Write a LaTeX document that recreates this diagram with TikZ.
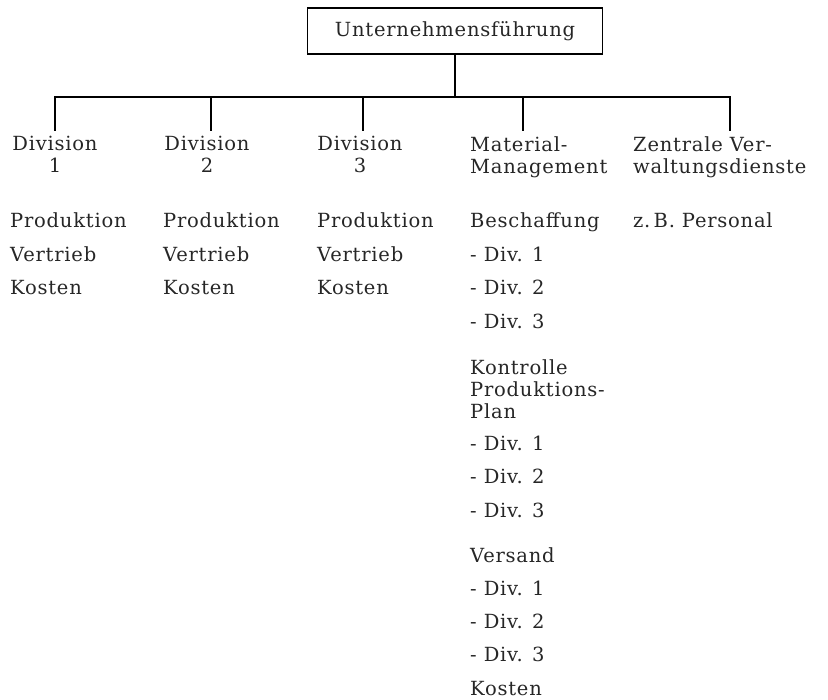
\documentclass[tikz,border=0pt]{standalone}
\usepackage{fontspec}
\setmainfont[LetterSpace=4]{DejaVu Serif}
\usetikzlibrary{positioning}

\begin{document}
\begin{tikzpicture}[
    x=1pt, y=-1pt,
    every node/.style={font=\fontsize{19.5}{22}\selectfont, text=black!85},
    chief/.style={rectangle, draw, line width=1.8pt, minimum width=295pt, minimum height=46pt, inner sep=0pt},
    head/.style={align=center, inner xsep=0pt, inner ysep=6pt, anchor=north},
    headl/.style={align=left, inner xsep=0pt, inner ysep=6pt, anchor=north west},
    item/.style={inner sep=0pt, anchor=base west},
    group/.style={align=left, inner sep=0pt, anchor=north west},
    bus/.style={line width=2.2pt, line cap=rect}
  ]
    \useasboundingbox (0,0) rectangle (828,700);

    \node[chief] (top) at (455,31) {Unternehmensführung};

    % bus
    \coordinate (j1) at (55,97);
    \coordinate (j2) at (211,97);
    \coordinate (j3) at (363,97);
    \coordinate (j4) at (523,97);
    \coordinate (j5) at (730,97);

    % headers
    \node[head] (hd1) at (55,130) {Division\\1};
    \node[head] (hd2) at (207,130) {Division\\2};
    \node[head] (hd3) at (360,130) {Division\\3};
    \node[headl] (hd4) at (470,130) {Material-\\Management};
    \node[headl] (hd5) at (633,130) {Zentrale Ver-\\waltungsdienste};

    % divisions
    \node[item] (d1p) at (10,228) {Produktion};
    \node[item] (d1v) at (10,262) {Vertrieb};
    \node[item] (d1k) at (10,295) {Kosten};
    \node[item] (d2p) at (163,228) {Produktion};
    \node[item] (d2v) at (163,262) {Vertrieb};
    \node[item] (d2k) at (163,295) {Kosten};
    \node[item] (d3p) at (317,228) {Produktion};
    \node[item] (d3v) at (317,262) {Vertrieb};
    \node[item] (d3k) at (317,295) {Kosten};

    % material management
    \node[item] (besch) at (470,228) {Beschaffung};
    \node[item] (b1) at (470,262) {- Div. 1};
    \node[item] (b2) at (470,295) {- Div. 2};
    \node[item] (b3) at (470,329) {- Div. 3};
    \node[group] (kontr) at (470,359) {Kontrolle\\Produktions-\\Plan};
    \node[item] (k1) at (470,451) {- Div. 1};
    \node[item] (k2) at (470,484) {- Div. 2};
    \node[item] (k3) at (470,518) {- Div. 3};
    \node[item] (vers) at (470,562) {Versand};
    \node[item] (v1) at (470,595) {- Div. 1};
    \node[item] (v2) at (470,628) {- Div. 2};
    \node[item] (v3) at (470,661) {- Div. 3};
    \node[item] (mk) at (470,695) {Kosten};

    % zentrale dienste
    \node[item] (pers) at (633,228) {z.\,B.~Personal};

    \draw[bus] (top.south) -- (top.south |- j1);
    \draw[bus] (j1) -- (j5);
    \draw[bus] (j1) -- (j1 |- hd1.north);
    \draw[bus] (j2) -- (j2 |- hd2.north);
    \draw[bus] (j3) -- (j3 |- hd3.north);
    \draw[bus] (j4) -- (j4 |- hd4.north);
    \draw[bus] (j5) -- (j5 |- hd5.north);
  \end{tikzpicture}
\end{document}
